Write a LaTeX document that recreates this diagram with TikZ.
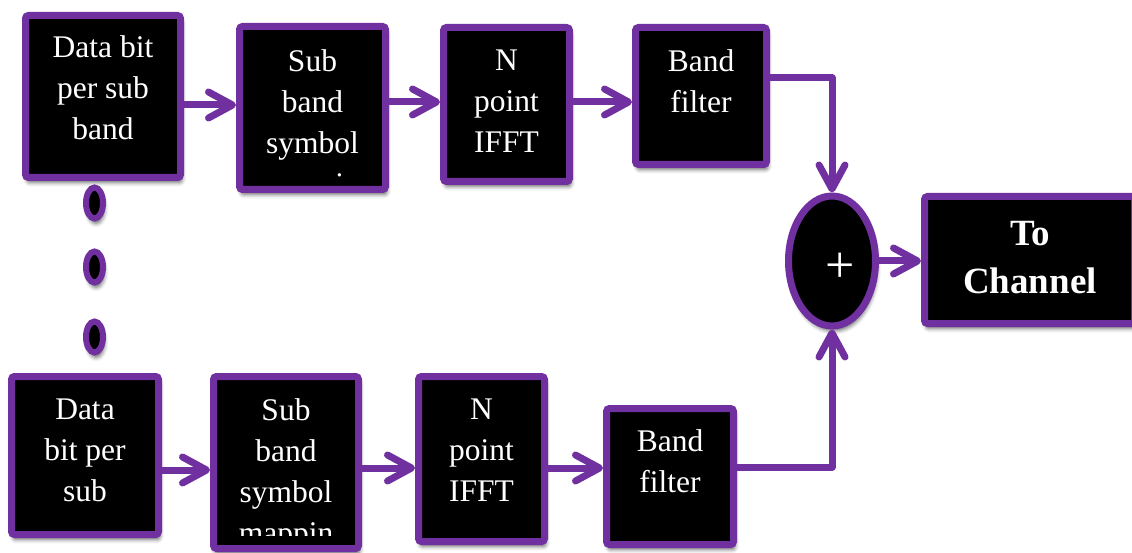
\documentclass[tikz,border=0pt]{standalone}
\usepackage{fontspec}
\setmainfont{Liberation Serif}
\usetikzlibrary{arrows.meta,shapes.geometric,shadows.blur}
\definecolor{purp}{RGB}{112,48,160}
\begin{document}
\begin{tikzpicture}[x=1pt,y=-1pt,
  shad/.style={blur shadow={shadow xshift=1.5pt,shadow yshift=-5pt,shadow blur radius=4pt,shadow opacity=60}},
  box/.style={rectangle,draw=purp,fill=black,line width=7pt,rounded corners=3pt,inner sep=0pt,shad},
  txt/.style={text=white,align=center,inner sep=0pt,font=\fontsize{31.5}{41}\selectfont},
  bigtxt/.style={text=white,align=center,inner sep=0pt,font=\fontsize{37}{48}\selectfont\bfseries},
  sumnode/.style={ellipse,draw=purp,fill=black,line width=7pt,inner sep=0pt,minimum width=87pt,minimum height=130pt,shad},
  dotnode/.style={ellipse,draw=purp,fill=black,line width=6pt,inner sep=0pt,minimum width=17pt,minimum height=31pt,shad},
  arr/.style={draw=purp,line width=7pt,line cap=round,line join=round,-{Straight Barb[length=24pt,width=26pt,round]}}
]
\useasboundingbox (0,0) rectangle (1132,553);
% top row
\node[box,minimum width=155pt,minimum height=162pt] (a1) at (103,96.5) {};
\node[box,minimum width=146pt,minimum height=163pt] (a2) at (312.5,108) {};
\node[box,minimum width=126pt,minimum height=154pt] (a3) at (506.5,104.5) {};
\node[box,minimum width=131pt,minimum height=137pt] (a4) at (701,96) {};
% bottom row
\node[box,minimum width=147pt,minimum height=158pt] (b1) at (85,455.5) {};
\node[box,minimum width=145pt,minimum height=172pt] (b2) at (286,462.5) {};
\node[box,minimum width=126pt,minimum height=165pt] (b3) at (481.5,459) {};
\node[box,minimum width=127pt,minimum height=136pt] (b4) at (670,476.5) {};
% sum and output
\node[sumnode] (sum) at (832,261) {};
\node[box,minimum width=210pt,minimum height=127pt] (ch) at (1029.5,260) {};
% dots
\node[dotnode] (d1) at (94.5,203) {};
\node[dotnode] (d2) at (94.5,267) {};
\node[dotnode] (d3) at (94.5,337) {};
% texts
\node[txt] (a1t) at (103,88) {Data bit\\per sub\\band};
\begin{scope}
  \clip (243,30) rectangle (382,177);
  \node[txt] (a2t) at (312.5,125) {Sub\\band\\symbol\\mappin};
\end{scope}
\node[txt] (a3t) at (506.5,101) {N\\point\\IFFT};
\node[txt] (a4t) at (701,81.5) {Band\\filter};
\node[txt] (b1t) at (85,450) {Data\\bit per\\sub};
\begin{scope}
  \clip (217,380) rectangle (355,535);
  \node[txt] (b2t) at (286,474) {Sub\\band\\symbol\\mappin};
\end{scope}
\node[txt] (b3t) at (481.5,450) {N\\point\\IFFT};
\node[txt] (b4t) at (670,461.5) {Band\\filter};
\node[bigtxt] (cht) at (1030,257.5) {To\\Channel};
\node[text=white,inner sep=0pt,font=\fontsize{52}{52}\selectfont] (plus) at (840.5,267.5) {+};
% connector levels
\coordinate (yA) at (0,105);
\coordinate (yB) at (0,102);
\coordinate (yC) at (0,78);
\coordinate (yD) at (0,470);
\coordinate (yE) at (0,468);
\coordinate (yF) at (0,467);
\draw[arr] (a1.east|-yA) -- (a2.west|-yA);
\draw[arr] (a2.east|-yB) -- (a3.west|-yB);
\draw[arr] (a3.east|-yB) -- (a4.west|-yB);
\draw[arr] (a4.east|-yC) -| (sum.north);
\draw[arr] (b1.east|-yD) -- (b2.west|-yD);
\draw[arr] (b2.east|-yE) -- (b3.west|-yE);
\draw[arr] (b3.east|-yE) -- (b4.west|-yE);
\draw[arr] (b4.east|-yF) -| (sum.south);
\draw[arr] (sum.east) -- (sum.east-|ch.west);
\end{tikzpicture}
\end{document}
